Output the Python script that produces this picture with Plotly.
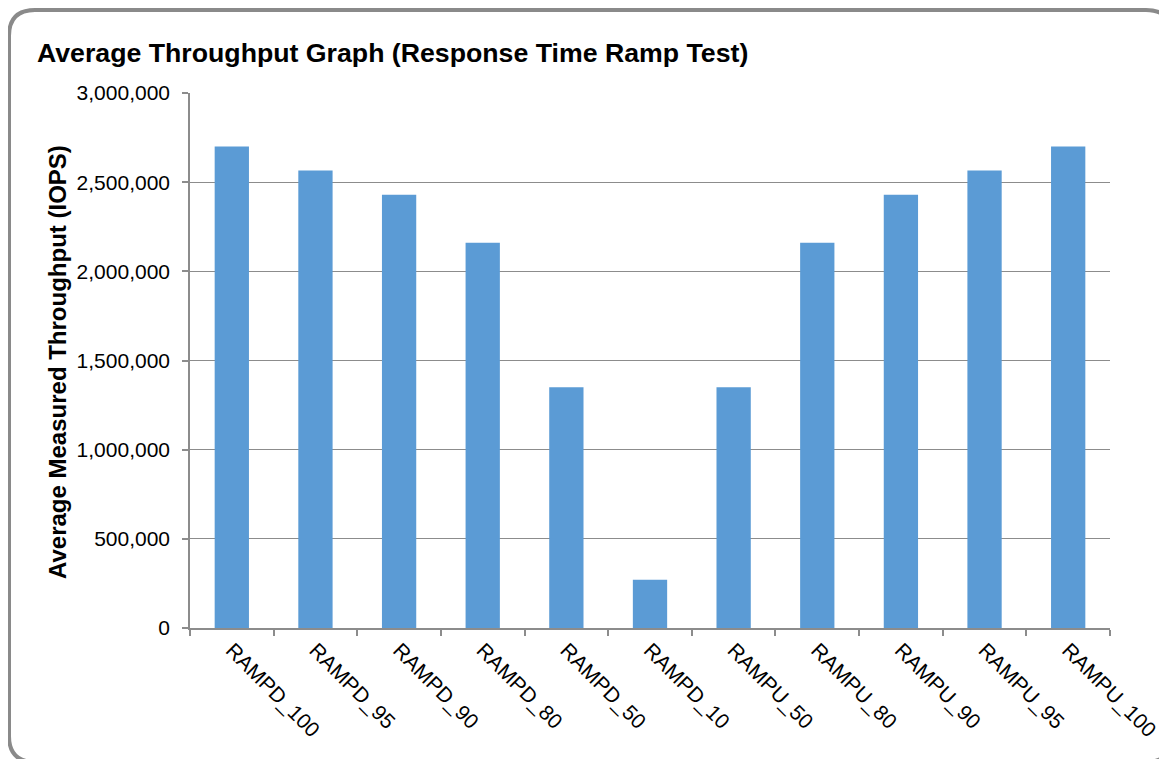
import plotly.graph_objects as go

categories = ["RAMPD_100", "RAMPD_95", "RAMPD_90", "RAMPD_80", "RAMPD_50", "RAMPD_10",
              "RAMPU_50", "RAMPU_80", "RAMPU_90", "RAMPU_95", "RAMPU_100"]
throughput = [2700000, 2565000, 2430000, 2160000, 1350000, 270000,
              1350000, 2160000, 2430000, 2565000, 2700000]
y_ticks = [0, 500000, 1000000, 1500000, 2000000, 2500000, 3000000]

# page has an 8px body margin; figure coords = page coords - 8
OFF = 8
W, H = 1167 - OFF, 759 - OFF
L, T = 190 - OFF, 93 - OFF
R = W - (1110 - OFF)
B = H - (628 - OFF)
pw, ph = W - L - R, H - T - B

def px(x):
    return (x - OFF - L) / pw

def py(y):
    return (H - B - (y - OFF)) / ph

FONT = "Liberation Sans, Arial, sans-serif"
GRID = "#8c8c8c"

fig = go.Figure(go.Bar(x=categories, y=throughput, marker=dict(color="#5B9BD5", line=dict(width=0)),
                       width=0.41))

# rounded border (page coords): only the left, top and bottom sides and corners are visible
x0, x1, y0, y1, r = 9, 1172, 10, 762, 26
def P(x, y):
    return f"{px(x):.5f},{py(y):.5f}"
path = (f"M {P(x1, y1 - r)} Q {P(x1, y1)} {P(x1 - r, y1)} "
        f"L {P(x0 + r, y1)} Q {P(x0, y1)} {P(x0, y1 - r)} "
        f"L {P(x0, y0 + r)} Q {P(x0, y0)} {P(x0 + r, y0)} "
        f"L {P(x1 - r, y0)} Q {P(x1, y0)} {P(x1, y0 + r)}")
fig.add_shape(type="path", xref="paper", yref="paper", path=path,
              line=dict(color="#8a8a8a", width=4), layer="below")

fig.add_annotation(text="<b>Average Throughput Graph (Response Time Ramp Test)</b>",
                   xref="paper", yref="paper", x=px(35), y=py(53), xanchor="left", yanchor="middle",
                   showarrow=False, font=dict(family=FONT, size=26.7, color="black"))
fig.add_annotation(text="<b>Average Measured Throughput (IOPS)</b>",
                   xref="paper", yref="paper", x=px(57), y=py(362), xanchor="center", yanchor="middle",
                   textangle=-90, showarrow=False, font=dict(family=FONT, size=24, color="black"))

fig.update_layout(
    width=W, height=H, margin=dict(l=L, r=R, t=T, b=B, autoexpand=False),
    paper_bgcolor="white", plot_bgcolor="white", showlegend=False,
    font=dict(family=FONT, size=21, color="black"),
)
fig.update_xaxes(type="category", tickangle=45, showline=True, linecolor=GRID, linewidth=1.5,
                 ticks="outside", tickson="boundaries", ticklen=6, tickcolor=GRID, tickwidth=1.5,
                 showgrid=False, tickfont=dict(size=21))
fig.update_yaxes(range=[0, 3000000], tickvals=y_ticks, tickformat=",d", showline=True, linecolor=GRID,
                 linewidth=1.5, ticks="outside", ticklen=6, tickcolor=GRID, tickwidth=1.5,
                 showgrid=True, gridcolor=GRID, gridwidth=1.2, zeroline=False,
                 ticklabelstandoff=8, tickfont=dict(size=21))

fig.write_html("out.html", post_script="document.body.style.overflow='hidden';")
